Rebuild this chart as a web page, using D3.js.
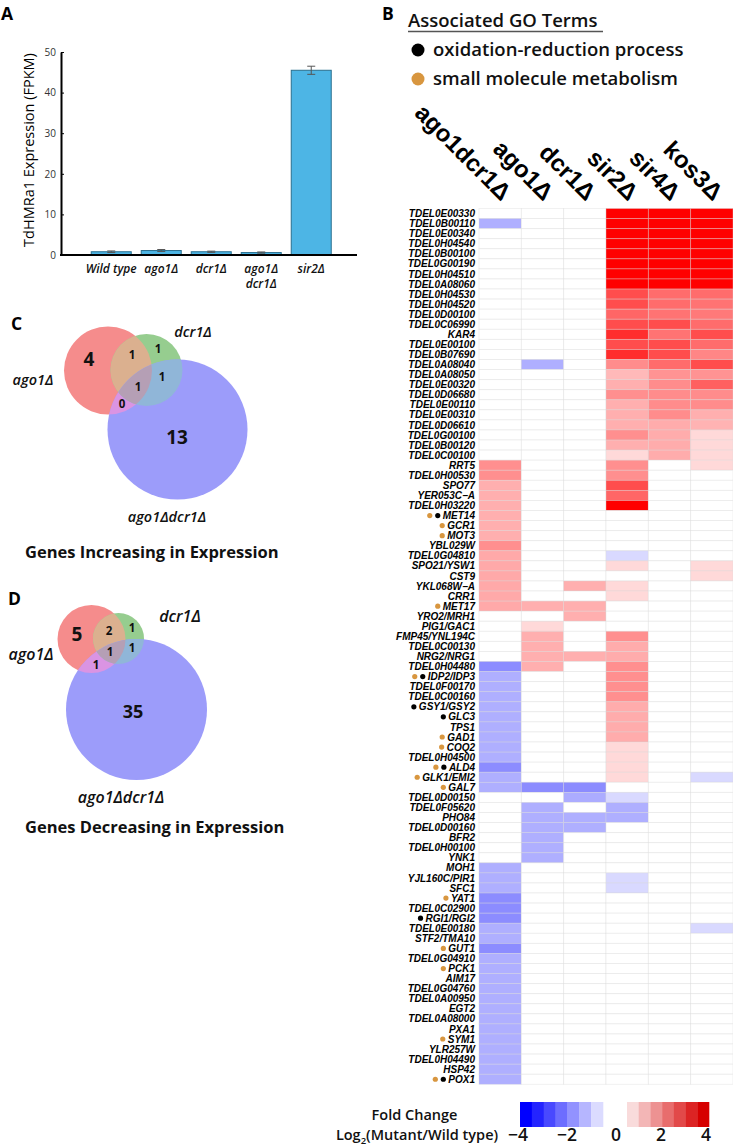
<!DOCTYPE html>
<html><head><meta charset="utf-8">
<script src="https://cdn.jsdelivr.net/npm/d3@7"></script>
<style>body{margin:0;background:#fff} svg{display:block}</style>
</head><body>
<svg id="fig" width="733" height="1147"></svg>
<script>
// ---------------- Panel A data ----------------
const barCategories = ["Wild type", "ago1Δ", "dcr1Δ", "ago1Δ\ndcr1Δ", "sir2Δ"];
const barValues = [0.8, 1.1, 0.8, 0.6, 45.5];
const barErrors = [0.2, 0.25, 0.15, 0.15, 1.0];
const barYTicks = [0, 10, 20, 30, 40, 50];

// ---------------- Panel B data ----------------
const mutants = ["ago1dcr1Δ", "ago1Δ", "dcr1Δ", "sir2Δ", "sir4Δ", "kos3Δ"];
const genes = [
 "TDEL0E00330","TDEL0B00110","TDEL0E00340","TDEL0H04540","TDEL0B00100","TDEL0G00190","TDEL0H04510","TDEL0A08060","TDEL0H04530","TDEL0H04520",
 "TDEL0D00100","TDEL0C06990","KAR4","TDEL0E00100","TDEL0B07690","TDEL0A08040","TDEL0A08050","TDEL0E00320","TDEL0D06680","TDEL0E00110",
 "TDEL0E00310","TDEL0D06610","TDEL0G00100","TDEL0B00120","TDEL0C00100","RRT5","TDEL0H00530","SPO77","YER053C−A","TDEL0H03220",
 "MET14","GCR1","MOT3","YBL029W","TDEL0G04810","SPO21/YSW1","CST9","YKL068W−A","CRR1","MET17",
 "YRO2/MRH1","PIG1/GAC1","FMP45/YNL194C","TDEL0C00130","NRG2/NRG1","TDEL0H04480","IDP2/IDP3","TDEL0F00170","TDEL0C00160","GSY1/GSY2",
 "GLC3","TPS1","GAD1","COQ2","TDEL0H04500","ALD4","GLK1/EMI2","GAL7","TDEL0D00150","TDEL0F05620",
 "PHO84","TDEL0D00160","BFR2","TDEL0H00100","YNK1","MOH1","YJL160C/PIR1","SFC1","YAT1","TDEL0C02900",
 "RGI1/RGI2","TDEL0E00180","STF2/TMA10","GUT1","TDEL0G04910","PCK1","AIM17","TDEL0G04760","TDEL0A00950","EGT2",
 "TDEL0A08000","PXA1","SYM1","YLR257W","TDEL0H04490","HSP42","POX1"
];
const goOxidation = ["MET14","IDP2/IDP3","GSY1/GSY2","GLC3","ALD4","RGI1/RGI2","POX1"];
const goSmallMolecule = ["MET14","GCR1","MOT3","MET17","IDP2/IDP3","GAD1","COQ2","ALD4","GLK1/EMI2","GAL7","YAT1","GUT1","PCK1","SYM1","POX1"];

// log2 fold change per mutant (rows follow `genes`)
const lfcAgo1Dcr1 = [
 0,-1.25,0,0,0,0,0,0,0,0,
 0,0,0,0,0,0,0,0,0,0,
 0,0,0,0,0,1.75,1.75,1.25,1.25,1.25,
 1.25,1.25,1.25,1.75,1.35,1.35,1.35,1.35,1.35,1.35,
 0,0,0,0,0,-1.8,-1.25,-1.25,-1.25,-1.25,
 -1.25,-1.25,-1.25,-1.25,-1.25,-1.8,-1.25,-1.25,0,0,
 0,0,0,0,0,-1.25,-1.25,-1.25,-1.8,-1.8,
 -1.8,-1.25,-1.25,-1.8,-1.25,-1.25,-1.25,-1.25,-1.25,-1.25,
 -1.25,-1.25,-1.25,-1.25,-1.25,-1.25,-1.25
];
const lfcAgo1 = [
 0,0,0,0,0,0,0,0,0,0,
 0,0,0,0,0,-1.25,0,0,0,0,
 0,0,0,0,0,0,0,0,0,0,
 0,0,0,0,0,0,0,0,0,1.25,
 0,0.6,1.25,1.25,1.25,1.25,0,0,0,0,
 0,0,0,0,0,0,0,-1.8,0,-1.25,
 -1.25,-1.25,-1.25,-1.25,-1.25,0,0,0,0,0,
 0,0,0,0,0,0,0,0,0,0,
 0,0,0,0,0,0,0
];
const lfcDcr1 = [
 0,0,0,0,0,0,0,0,0,0,
 0,0,0,0,0,0,0,0,0,0,
 0,0,0,0,0,0,0,0,0,0,
 0,0,0,0,0,0,0,1.25,0,1.25,
 1.25,0,0,0,1.25,0,0,0,0,0,
 0,0,0,0,0,0,0,-1.8,-1.3,0,
 -1.25,-1.25,0,0,0,0,0,0,0,0,
 0,0,0,0,0,0,0,0,0,0,
 0,0,0,0,0,0,0
];
const lfcSir2 = [
 4,4,4,4,4,4,4,4,2.8,2.8,
 2.4,2.8,3.3,2.8,3.3,1.8,1.1,1.25,1.75,1.25,
 1.25,1.25,1.75,1.25,0.6,1.75,1.75,2.8,2.4,4,
 0,0,0,0,-0.6,0.6,0,0.6,0.6,0,
 0,0,1.75,1.3,1.3,1.75,1.75,1.75,1.75,1.3,
 1.3,1.3,1.3,0.6,0.6,0.6,0.6,0,-0.6,-1.25,
 -1.25,0,0,0,0,0,-0.6,-0.6,0,0,
 0,0,0,0,0,0,0,0,0,0,
 0,0,0,0,0,0,0
];
const lfcSir4 = [
 4,4,4,4,4,4,4,4,2.3,2.3,
 2.2,2.8,2.2,2.8,2.8,2.3,1.7,1.8,1.8,1.8,
 1.8,1.3,1.3,1.3,1.3,0,0,0,0,0,
 0,0,0,0,0,0,0,0,0,0,
 0,0,0,0,0,0,0,0,0,0,
 0,0,0,0,0,0,0,0,0,0,
 0,0,0,0,0,0,0,0,0,0,
 0,0,0,0,0,0,0,0,0,0,
 0,0,0,0,0,0,0
];
const lfcKos3 = [
 4,4,4,4,4,4,4,4,2.3,2.2,
 2.1,2.3,2.8,2.3,1.9,2.8,1.7,2.5,1.8,1.8,
 1.25,1.2,0.6,0.6,0.6,0.6,0,0,0,0,
 0,0,0,0,0,0.6,0.6,0,0,0,
 0,0,0,0,0,0,0,0,0,0,
 0,0,0,0,0,0,-0.6,0,0,0,
 0,0,0,0,0,0,0,0,0,0,
 0,-0.6,0,0,0,0,0,0,0,0,
 0,0,0,0,0,0,0
];
const legendTicks = [-4, -2, 0, 2, 4];
const legendBlueSteps = [-4, -3.43, -2.86, -2.29, -1.71, -1.14, -0.57];
const legendRedSteps = [0.57, 1.14, 1.71, 2.29, 2.86, 3.43, 4];

// ---------------- Panels C / D data ----------------
const vennSets = ["ago1Δ", "dcr1Δ", "ago1Δdcr1Δ"];
// regions: ago1 only, ago1∩dcr1, dcr1 only, dcr1∩double, all three, ago1∩double, double only
const increasingCounts = [4, 1, 1, 1, 1, 0, 13];
const decreasingCounts = [5, 2, 1, 1, 1, 1, 35];

// =====================================================
const svg = d3.select("#fig");
const SANS = "'Open Sans', 'DejaVu Sans', sans-serif";
const ARIAL = "'Liberation Sans', Arial, sans-serif";

function panelLetter(t, x, y) {
  svg.append("text").attr("x", x).attr("y", y).text(t)
    .attr("font-family", SANS).attr("font-weight", 700).attr("font-size", 17.5).attr("fill", "#000");
}
panelLetter("A", 1, 19.5);
panelLetter("B", 382, 19.5);
panelLetter("C", 11, 330);
panelLetter("D", 8, 605);

// ---------------- Panel A ----------------
(function () {
  const g = svg.append("g");
  const x = d3.scaleBand().domain(barCategories).range([61, 357])
    .paddingInner(0.2).paddingOuter(0.56).align(0.54);
  const y = d3.scaleLinear().domain([0, 50]).range([255, 52]);

  g.selectAll("rect.bar").data(barCategories).join("rect").attr("class", "bar")
    .attr("x", d => x(d)).attr("width", x.bandwidth())
    .attr("y", (d, i) => y(barValues[i])).attr("height", (d, i) => y(0) - y(barValues[i]))
    .attr("fill", "#4db5e5").attr("stroke", "#2a6f8e").attr("stroke-width", 1);

  // error bars
  barCategories.forEach((c, i) => {
    const cx = x(c) + x.bandwidth() / 2;
    const y1 = y(barValues[i] + barErrors[i]), y2 = y(barValues[i] - barErrors[i]);
    g.append("line").attr("x1", cx).attr("x2", cx).attr("y1", y1).attr("y2", y2).attr("stroke", "#555").attr("stroke-width", 1);
    g.append("line").attr("x1", cx - 4).attr("x2", cx + 4).attr("y1", y1).attr("y2", y1).attr("stroke", "#555").attr("stroke-width", 1);
    g.append("line").attr("x1", cx - 4).attr("x2", cx + 4).attr("y1", y2).attr("y2", y2).attr("stroke", "#555").attr("stroke-width", 1);
  });

  const ax = g.append("g").attr("transform", "translate(61,0)")
    .call(d3.axisLeft(y).tickValues(barYTicks).tickSizeInner(-3).tickSizeOuter(0).tickPadding(5));
  ax.select(".domain").attr("stroke", "#000").attr("stroke-width", 2);
  ax.selectAll(".tick line").attr("stroke", "#000");
  ax.selectAll(".tick text").attr("font-family", SANS).attr("font-size", 10).attr("fill", "#333");

  g.append("line").attr("x1", 60).attr("x2", 357).attr("y1", y(0)).attr("y2", y(0))
    .attr("stroke", "#000").attr("stroke-width", 2);

  barCategories.forEach(c => {
    const t = g.append("text").attr("text-anchor", "middle")
      .attr("font-family", SANS).attr("font-style", "italic").attr("font-weight", 600)
      .attr("font-size", 12).attr("fill", "#111");
    c.split("\n").forEach((line, k) => {
      t.append("tspan").attr("x", x(c) + x.bandwidth() / 2).attr("y", 273 + k * 15).text(line);
    });
  });

  g.append("text").attr("transform", "translate(34,150) rotate(-90)").attr("text-anchor", "middle")
    .attr("font-family", SANS).attr("font-size", 14.5).attr("fill", "#000")
    .text("TdHMRa1 Expression (FPKM)");
})();

// ---------------- Panel B ----------------
(function () {
  const g = svg.append("g");
  // GO legend
  g.append("text").attr("x", 408).attr("y", 27).text("Associated GO Terms")
    .attr("font-family", SANS).attr("font-weight", 600).attr("font-size", 18.5).attr("fill", "#111");
  g.append("line").attr("x1", 408).attr("x2", 603).attr("y1", 31.5).attr("y2", 31.5)
    .attr("stroke", "#555").attr("stroke-width", 1.3);
  g.append("circle").attr("cx", 418).attr("cy", 50).attr("r", 6.5).attr("fill", "#000");
  g.append("text").attr("x", 433).attr("y", 56).text("oxidation-reduction process")
    .attr("font-family", SANS).attr("font-weight", 600).attr("font-size", 18.5).attr("fill", "#111");
  g.append("circle").attr("cx", 418).attr("cy", 79).attr("r", 6.5).attr("fill", "#d8963f");
  g.append("text").attr("x", 433).attr("y", 85).text("small molecule metabolism")
    .attr("font-family", SANS).attr("font-weight", 600).attr("font-size", 18.5).attr("fill", "#111");

  const lfc = [lfcAgo1Dcr1, lfcAgo1, lfcDcr1, lfcSir2, lfcSir4, lfcKos3];
  const x = d3.scaleBand().domain(mutants).range([479, 733]);
  const y = d3.scaleBand().domain(genes).range([208.5, 1084.3]);
  const color = d3.scaleLinear().domain([-4, 0, 4]).range(["#0000ff", "#ffffff", "#ff0000"]).clamp(true);

  const cells = [];
  mutants.forEach((m, j) => genes.forEach((gn, i) => cells.push({ m, gn, v: lfc[j][i] })));
  g.selectAll("rect.cell").data(cells).join("rect").attr("class", "cell")
    .attr("x", d => x(d.m)).attr("y", d => y(d.gn))
    .attr("width", x.bandwidth()).attr("height", y.bandwidth())
    .attr("fill", d => color(d.v))
    .attr("stroke", "rgba(215,215,215,0.45)").attr("stroke-width", 0.8);

  // column headers
  mutants.forEach(m => {
    g.append("text").attr("transform", `translate(${x(m) + x.bandwidth() / 2 + 1},202) rotate(45)`)
      .attr("text-anchor", "end").text(m)
      .attr("font-family", ARIAL).attr("font-weight", 700).attr("font-size", 24).attr("fill", "#000");
  });

  // row labels
  genes.forEach(gn => {
    const cy = y(gn) + y.bandwidth() / 2;
    const t = g.append("text").attr("x", 475).attr("y", cy).attr("dy", "0.36em")
      .attr("text-anchor", "end").text(gn)
      .attr("font-family", ARIAL).attr("font-weight", 700).attr("font-style", "italic")
      .attr("font-size", 10).attr("fill", "#000");
    const w = t.node().getComputedTextLength();
    let bx = 475 - w - 5;
    if (goOxidation.includes(gn)) {
      g.append("circle").attr("cx", bx).attr("cy", cy).attr("r", 2.6).attr("fill", "#000");
      bx -= 8;
    }
    if (goSmallMolecule.includes(gn)) {
      g.append("circle").attr("cx", bx).attr("cy", cy).attr("r", 2.6).attr("fill", "#d8963f");
    }
  });

  // colour legend
  const blueBand = d3.scaleBand().domain(legendBlueSteps).range([520, 603]);
  const redBand = d3.scaleBand().domain(legendRedSteps).range([627, 709]);
  const legendRed = d3.scaleLinear().domain([0, 4]).range(["#ffffff", "#d60000"]);
  g.selectAll("rect.lb").data(legendBlueSteps).join("rect").attr("class", "lb")
    .attr("x", d => blueBand(d)).attr("width", blueBand.bandwidth() + 0.3)
    .attr("y", 1102).attr("height", 25).attr("fill", d => color(d));
  g.selectAll("rect.lr").data(legendRedSteps).join("rect").attr("class", "lr")
    .attr("x", d => redBand(d)).attr("width", redBand.bandwidth() + 0.3)
    .attr("y", 1102).attr("height", 25).attr("fill", d => legendRed(d));
  const lx = d3.scaleLinear().domain([-4, 0, 4]).range([518, 616, 706]);
  g.selectAll("text.lt").data(legendTicks).join("text").attr("class", "lt")
    .attr("x", d => lx(d)).attr("y", 1141).attr("text-anchor", "middle")
    .text(d => d < 0 ? "−" + Math.abs(d) : String(d))
    .attr("font-family", SANS).attr("font-weight", 600).attr("font-size", 17.5).attr("fill", "#111");

  g.append("text").attr("x", 414.5).attr("y", 1120).attr("text-anchor", "middle").text("Fold Change")
    .attr("font-family", SANS).attr("font-weight", 600).attr("font-size", 14.5).attr("fill", "#111");
  const lg = g.append("text").attr("x", 417).attr("y", 1140).attr("text-anchor", "middle")
    .attr("font-family", SANS).attr("font-weight", 600).attr("font-size", 14.5).attr("fill", "#111");
  lg.append("tspan").text("Log");
  lg.append("tspan").attr("font-size", 9.5).attr("dy", 3.5).text("2");
  lg.append("tspan").attr("dy", -3.5).text("(Mutant/Wild type)");
})();

// ---------------- Venn diagrams ----------------
const vennFill = ["#f58c8c", "#96cd8f", "#9c9cfa"];
const vennPair = { rg: "#dbb08f", gb: "#90b6d8", rb: "#da94e3", all: "#b59fb5" };

function drawVenn(id, circles, counts, countPos, countSize, labelPos, labelSize, title, titlePos) {
  const g = svg.append("g");
  const defs = svg.append("defs");
  circles.forEach((c, i) => {
    defs.append("clipPath").attr("id", `${id}c${i}`).append("circle")
      .attr("cx", c[0]).attr("cy", c[1]).attr("r", c[2]);
  });
  const circ = (sel, c, fill) => sel.append("circle").attr("cx", c[0]).attr("cy", c[1]).attr("r", c[2]).attr("fill", fill);
  circles.forEach((c, i) => circ(g, c, vennFill[i]));
  circ(g.append("g").attr("clip-path", `url(#${id}c0)`), circles[1], vennPair.rg);
  circ(g.append("g").attr("clip-path", `url(#${id}c0)`), circles[2], vennPair.rb);
  circ(g.append("g").attr("clip-path", `url(#${id}c1)`), circles[2], vennPair.gb);
  circ(g.append("g").attr("clip-path", `url(#${id}c0)`).append("g").attr("clip-path", `url(#${id}c1)`), circles[2], vennPair.all);

  counts.forEach((n, i) => {
    g.append("text").attr("x", countPos[i][0]).attr("y", countPos[i][1]).attr("dy", "0.36em")
      .attr("text-anchor", "middle").text(n)
      .attr("font-family", SANS).attr("font-weight", 700).attr("font-size", countSize[i]).attr("fill", "#111");
  });
  vennSets.forEach((s, i) => {
    g.append("text").attr("x", labelPos[i][0]).attr("y", labelPos[i][1]).attr("text-anchor", "middle").text(s)
      .attr("font-family", SANS).attr("font-weight", 600).attr("font-style", "italic")
      .attr("font-size", labelSize).attr("fill", "#111");
  });
  g.append("text").attr("x", titlePos[0]).attr("y", titlePos[1]).text(title)
    .attr("font-family", SANS).attr("font-weight", 700).attr("font-size", 16.5).attr("fill", "#111");
}

drawVenn("vc",
  [[108, 370.5, 44], [146.5, 370, 36], [177.5, 429.5, 70]],
  increasingCounts,
  [[89, 359], [132, 355], [158, 349], [162, 377], [138, 387], [122, 404], [177, 437]],
  [19, 11.5, 11.5, 11.5, 11.5, 11.5, 19],
  [[33, 385], [193, 337], [167, 522]], 14.5,
  "Genes Increasing in Expression", [25, 558]);

drawVenn("vd",
  [[91.5, 639, 34], [118.5, 638.5, 25.5], [136.5, 709.5, 70.5]],
  decreasingCounts,
  [[77, 634], [109, 631], [132, 628], [132, 648], [110, 652], [96, 665], [133, 712]],
  [19, 11.5, 11.5, 11.5, 11.5, 11.5, 18],
  [[31, 660], [180, 622], [121, 803]], 16,
  "Genes Decreasing in Expression", [25, 833]);
</script>
</body></html>
